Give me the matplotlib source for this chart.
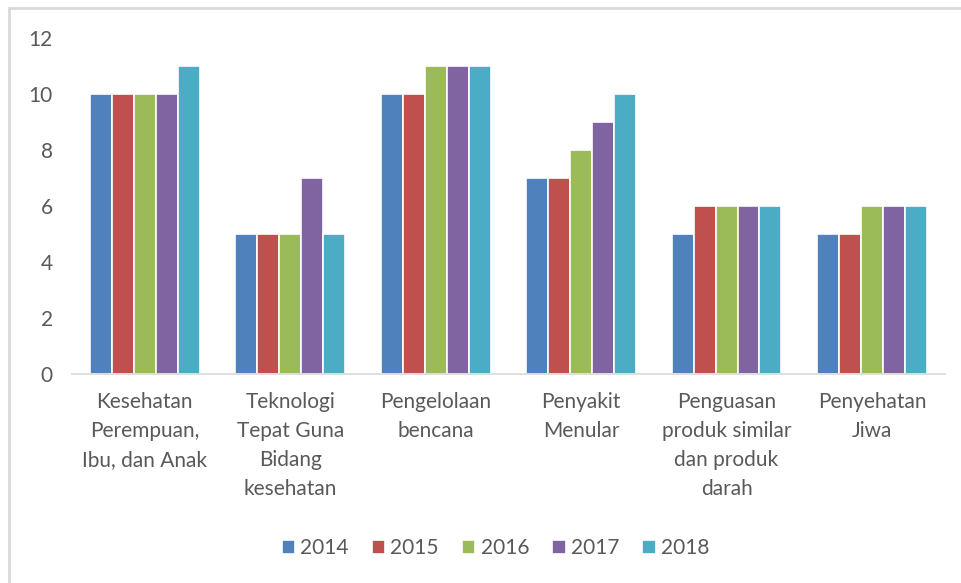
import numpy as np
import matplotlib.pyplot as plt
from matplotlib.patches import Rectangle

categories = ['Kesehatan\nPerempuan,\nIbu, dan Anak',
              'Teknologi\nTepat Guna\nBidang\nkesehatan',
              'Pengelolaan\nbencana',
              'Penyakit\nMenular',
              'Penguasan\nproduk similar\ndan produk\ndarah',
              'Penyehatan\nJiwa']
years = ['2014', '2015', '2016', '2017', '2018']
v2014 = [10, 5, 10, 7, 5, 5]
v2015 = [10, 5, 10, 7, 6, 5]
v2016 = [10, 5, 11, 8, 6, 6]
v2017 = [10, 7, 11, 9, 6, 6]
v2018 = [11, 5, 11, 10, 6, 6]
series = [v2014, v2015, v2016, v2017, v2018]
colors = ['#4F81BD', '#C0504D', '#9BBB59', '#8064A2', '#4BACC6']

plt.rcParams['font.family'] = ['Lato', 'DejaVu Sans']
txt = '#595959'

fig = plt.figure(figsize=(9.62, 5.83), dpi=100)
ax = fig.add_axes([0.075, 0.358, 0.907, 0.577])

x = np.arange(len(categories))
step = 0.151
for i, (vals, c, y) in enumerate(zip(series, colors, years)):
    ax.bar(x + (i - 2) * step, vals, width=step, color=c,
           edgecolor='white', linewidth=1.2, label=y)

ax.set_xlim(-0.5, len(categories) - 0.5)
ax.set_ylim(0, 12)
ax.set_yticks(range(0, 13, 2))
ax.set_xticks(x)
ax.set_xticklabels(categories, fontsize=15, color=txt, linespacing=1.55)
ax.tick_params(axis='y', labelsize=15, labelcolor=txt, length=0, pad=14)
ax.tick_params(axis='x', length=0, pad=13)
for s in ['top', 'right', 'left']:
    ax.spines[s].set_visible(False)
ax.spines['bottom'].set_color('#D9D9D9')
ax.spines['bottom'].set_linewidth(1.2)

leg = fig.legend(loc='center', bbox_to_anchor=(0.515, 0.06), ncol=5,
                 frameon=False, fontsize=15, handlelength=0.65,
                 handleheight=0.65, handletextpad=0.25, columnspacing=1.1)
for t in leg.get_texts():
    t.set_color(txt)

# chart border (light gray, only top/left visible in the crop)
fig.patches.append(Rectangle((9 / 962, -0.1), 1.2, 1 - 8 / 583 + 0.1,
                             transform=fig.transFigure, fill=False,
                             edgecolor='#D9D9D9', linewidth=2))

fig.savefig('out.png', dpi=100)
